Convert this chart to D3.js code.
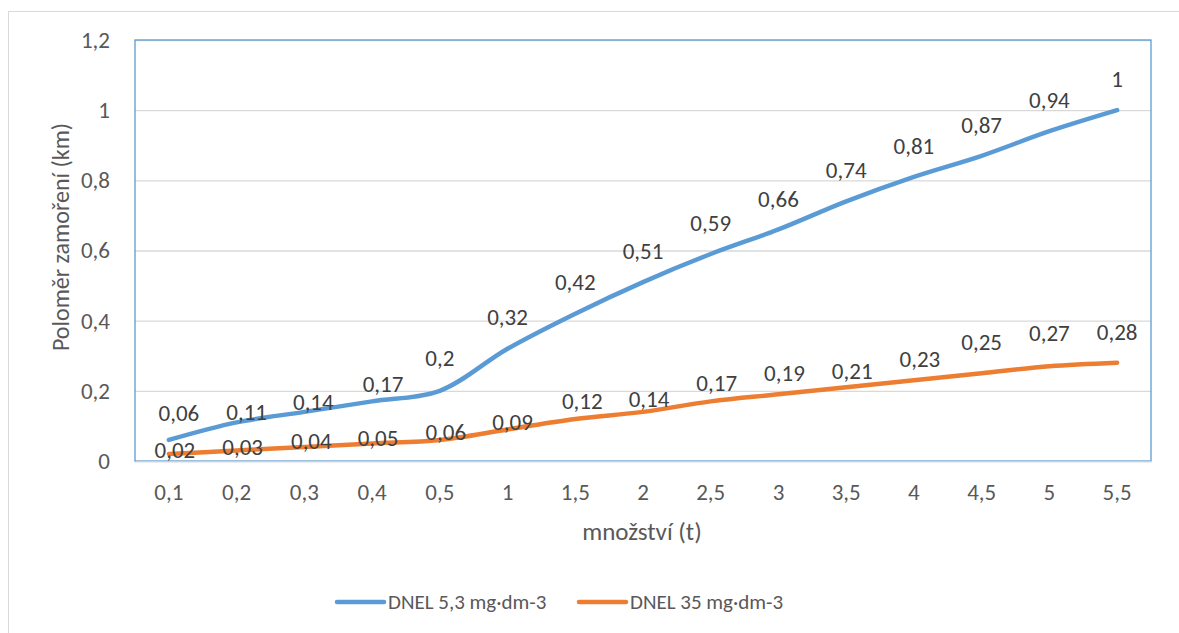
<!DOCTYPE html>
<html>
<head>
<meta charset="utf-8">
<script src="https://cdn.jsdelivr.net/npm/d3@7"></script>
<style>
  body { margin: 0; background: #fff; }
  text { font-family: Carlito, "Open Sans", sans-serif; }
</style>
</head>
<body>
<svg width="1179" height="633"></svg>
<script>
// data
var categories = ["0,1", "0,2", "0,3", "0,4", "0,5", "1", "1,5", "2", "2,5", "3", "3,5", "4", "4,5", "5", "5,5"];
var dnel53 = [0.06, 0.11, 0.14, 0.17, 0.2, 0.32, 0.42, 0.51, 0.59, 0.66, 0.74, 0.81, 0.87, 0.94, 1];
var dnel35 = [0.02, 0.03, 0.04, 0.05, 0.06, 0.09, 0.12, 0.14, 0.17, 0.19, 0.21, 0.23, 0.25, 0.27, 0.28];
var yTicks = [0, 0.2, 0.4, 0.6, 0.8, 1, 1.2];
var seriesNames = ["DNEL 5,3 mg·dm-3", "DNEL 35 mg·dm-3"];

// hand-moved data labels (dx, lift above the point)
var labelDx53 = [10, 10, 9, 11, 0, 0, 0, 0, 0, 0, 0, 0, 0, 0, 0];
var labelLift53 = [27, 10, 10, 17, 33, 32, 32, 31, 31, 31, 31, 31, 31, 31, 31];
var labelDx35 = [6, 6, 7, 6, 6, 5, 7, 6, 6, 6, 6, 6, 0, 0, 0];
var labelLift35 = [4, 4, 6, 6, 8, 7, 18, 13, 18, 21, 16, 21, 31, 33, 31];

var colors = ["#5b9bd5", "#ed7d31"];
var fmt = function(v){ return String(v).replace(".", ","); };

var svg = d3.select("svg");
var margin = {left: 135, right: 1151, top: 40, bottom: 461};

// chart border
svg.append("rect")
    .attr("x", 8.5).attr("y", 11.5)
    .attr("width", 1200).attr("height", 700)
    .attr("fill", "none")
    .attr("stroke", "#d9d9d9");

var x = d3.scaleBand()
    .domain(categories)
    .range([margin.left, margin.right]);

var y = d3.scaleLinear()
    .domain([0, 1.2])
    .range([margin.bottom, margin.top]);

// gridlines
svg.append("g")
    .attr("transform", "translate(" + margin.left + ",0)")
    .call(d3.axisLeft(y).tickValues(yTicks).tickSize(-(margin.right - margin.left)).tickFormat(""))
    .call(g => g.select(".domain").remove())
    .call(g => g.selectAll("line").attr("stroke", "#d9d9d9").attr("stroke-width", 1.3));

// plot area border
svg.append("rect")
    .attr("x", margin.left).attr("y", margin.top)
    .attr("width", margin.right - margin.left)
    .attr("height", margin.bottom - margin.top)
    .attr("fill", "none")
    .attr("stroke", "#5b9bd5")
    .attr("stroke-width", 1.3);

// y axis labels
svg.append("g")
    .attr("transform", "translate(" + (margin.left - 22) + ",0)")
    .call(d3.axisLeft(y).tickValues(yTicks).tickSize(0).tickFormat(fmt))
    .call(g => g.select(".domain").remove())
    .call(g => g.selectAll("text")
        .attr("fill", "#595959")
        .style("font-size", "23px")
        .style("font-family", "Carlito, 'Open Sans', sans-serif"));

// x axis
svg.append("g")
    .attr("transform", "translate(0," + margin.bottom + ")")
    .call(d3.axisBottom(x).tickSize(0).tickPadding(23))
    .call(g => g.select(".domain").attr("stroke", "#c7d0dc").attr("stroke-width", 1.5))
    .call(g => g.selectAll("text")
        .attr("fill", "#595959")
        .style("font-size", "23px")
        .style("font-family", "Carlito, 'Open Sans', sans-serif"));

// axis titles
svg.append("text")
    .attr("x", (margin.left + margin.right) / 2 - 1)
    .attr("y", 540)
    .attr("text-anchor", "middle")
    .attr("fill", "#595959")
    .style("font-size", "25px")
    .text("množství (t)");

svg.append("text")
    .attr("transform", "translate(69," + 237 + ") rotate(-90)")
    .attr("text-anchor", "middle")
    .attr("fill", "#595959")
    .style("font-size", "24px")
    .text("Poloměr zamoření (km)");

var line = d3.line()
    .x((d, i) => x(categories[i]) + x.bandwidth() / 2)
    .y(d => y(d))
    .curve(d3.curveCatmullRom);

var series = [
    {values: dnel53, dx: labelDx53, lift: labelLift53},
    {values: dnel35, dx: labelDx35, lift: labelLift35}
];

series.forEach((s, k) => {
    svg.append("path")
        .datum(s.values)
        .attr("d", line)
        .attr("fill", "none")
        .attr("stroke", colors[k])
        .attr("stroke-width", 4.5)
        .attr("stroke-linecap", "round");
});

series.forEach((s, k) => {
    svg.append("g")
        .selectAll("text")
        .data(s.values)
        .enter()
        .append("text")
            .attr("x", (d, i) => x(categories[i]) + x.bandwidth() / 2 + s.dx[i])
            .attr("y", (d, i) => y(d) - s.lift[i])
            .attr("dy", "0.35em")
            .attr("text-anchor", "middle")
            .attr("fill", "#404040")
            .style("font-size", "23px")
            .text(d => fmt(d));
});

// legend
var legend = svg.append("g");
var legendX = [337, 579];
seriesNames.forEach((name, k) => {
    legend.append("line")
        .attr("x1", legendX[k]).attr("x2", legendX[k] + 47)
        .attr("y1", 602).attr("y2", 602)
        .attr("stroke", colors[k])
        .attr("stroke-width", 4.5)
        .attr("stroke-linecap", "round");
    legend.append("text")
        .attr("x", legendX[k] + 51)
        .attr("y", 602)
        .attr("dy", "0.35em")
        .attr("fill", "#595959")
        .style("font-size", "21px")
        .text(name);
});
</script>
</body>
</html>
